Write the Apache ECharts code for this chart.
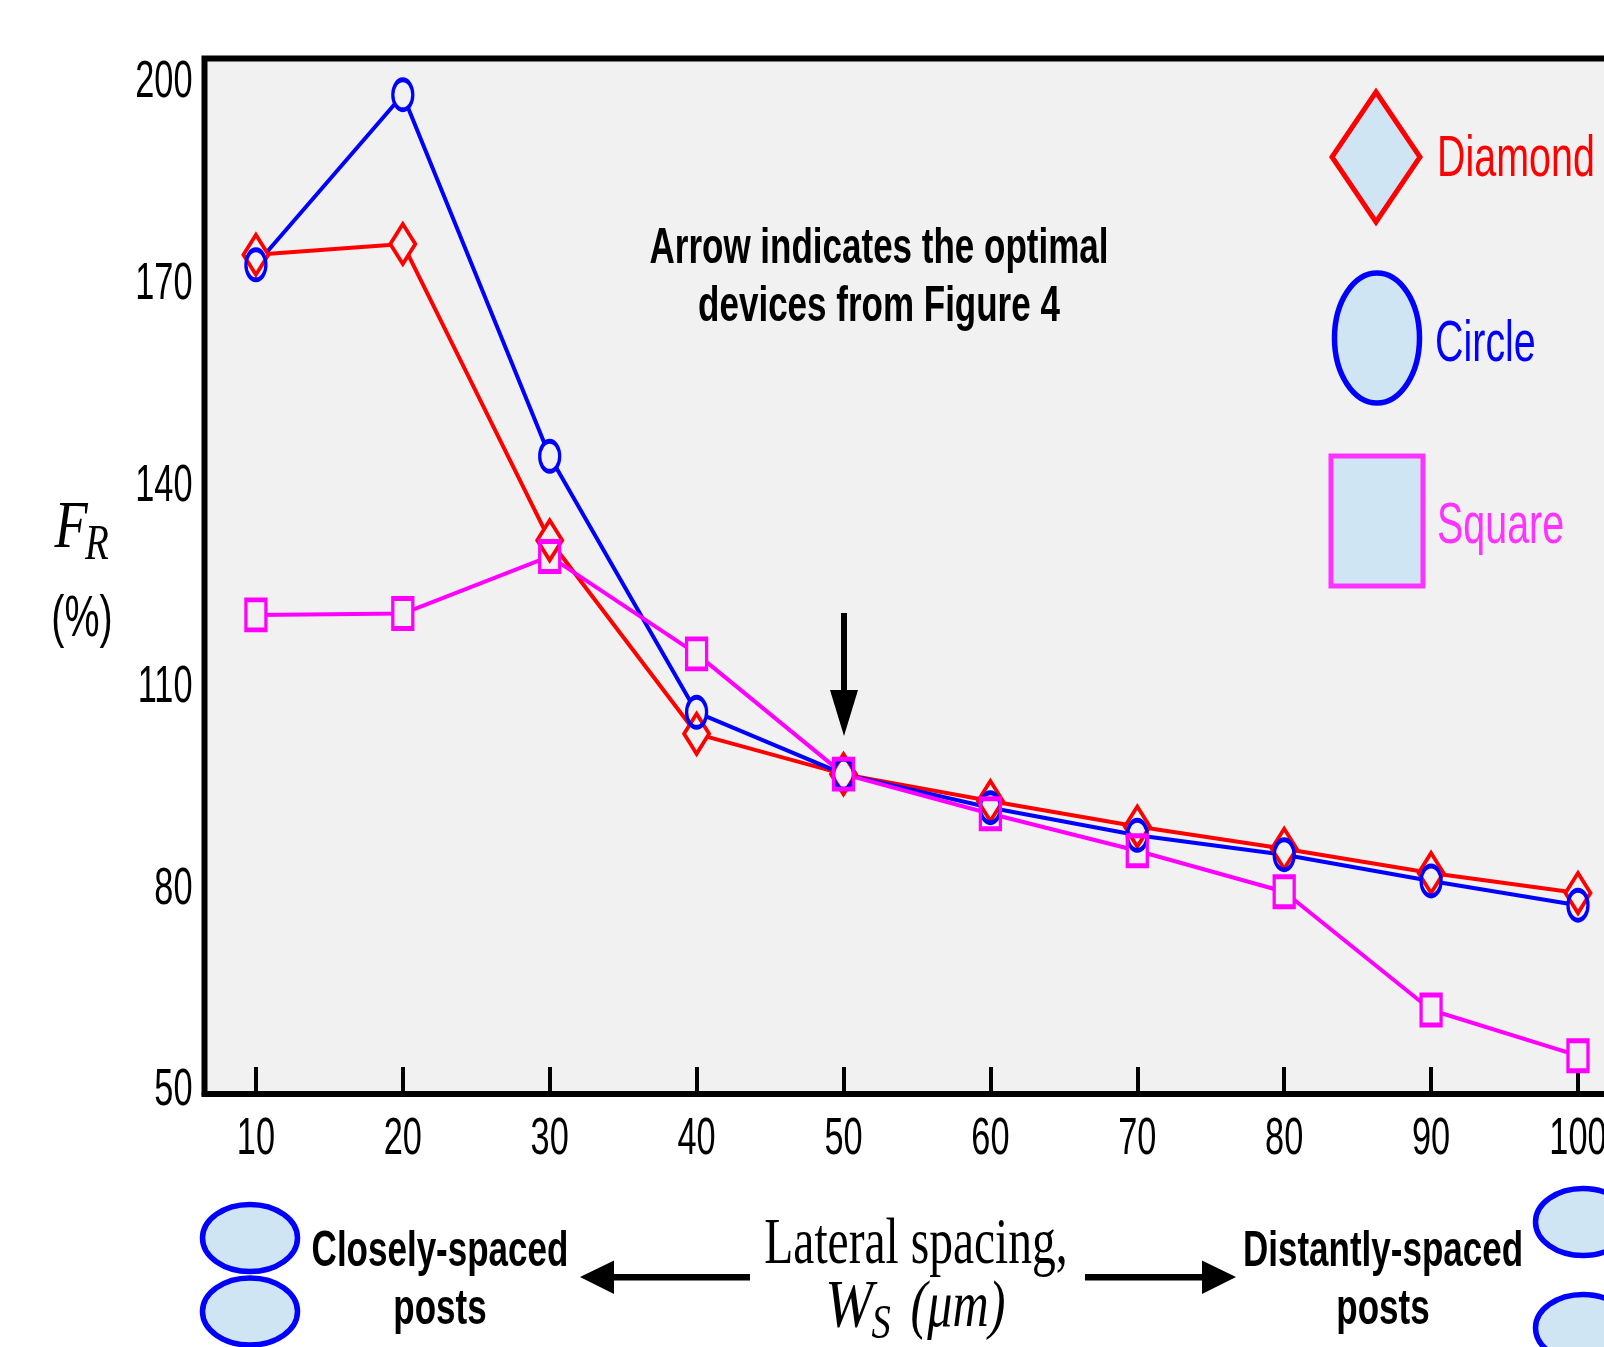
<!DOCTYPE html>
<html><head><meta charset="utf-8">
<style>html,body{margin:0;padding:0;background:#fff}#c{width:1604px;height:1347px}</style>
<script src="https://cdn.jsdelivr.net/npm/echarts@6/dist/echarts.min.js"></script>
</head><body><div id="c"></div>
<script>
const lateralSpacing = [10,20,30,40,50,60,70,80,90,100];
const yTickValues = [50,80,110,140,170,200];
const diamondValues = [174.9,176.5,132.4,103.6,97.6,93.6,89.8,86.5,82.9,79.9];
const circleValues = [173.4,198.7,144.9,106.8,97.6,92.6,88.5,85.6,81.7,78.1];
const squareValues = [121.3,121.5,130.0,115.5,97.6,91.7,86.2,80.1,62.5,55.7];

const PANEL='#f1f1f1', FILL='#d0e5f4', RED='#ff0000', BLUE='#0000ff', MAG='#ff00ff';
const SANS='"Liberation Sans"', SERIF='"Liberation Serif"';
const SX=0.66, BSX=0.70;

function zip(v){return lateralSpacing.map((x,i)=>[x,v[i]]);}
function trio(name,values,color,symbol,size,lw){
  const d=zip(values);
  return [
    {name,type:'line',data:d,symbol:'none',z:2,silent:true,lineStyle:{color,width:lw}},
    {name:name+' mask',type:'scatter',data:d,symbol,symbolSize:size,z:3,silent:true,itemStyle:{color:PANEL,borderWidth:0,opacity:1}},
    {name:name+' marker',type:'scatter',data:d,symbol,symbolSize:size,z:4,silent:true,itemStyle:{color:'transparent',borderColor:color,borderWidth:4,opacity:1}}
  ];
}
function labelText(text,x,y,align){
  return {type:'text',x,y,scaleX:SX,style:{text:String(text),fontSize:52,fontFamily:SANS,fill:'#000',align,verticalAlign:'middle'}};
}
function t(text,x,y,size,sx,o){
  o=o||{};
  return {type:'text',x,y,scaleX:sx,z:10,style:Object.assign({text,fontSize:size,fontFamily:SANS,fill:'#000',align:'center',verticalAlign:'middle'},o)};
}
function ell(cx,cy,rx,ry,stroke){return {type:'ellipse',z:10,shape:{cx,cy,rx,ry},style:{fill:FILL,stroke,lineWidth:5.5}};}
function poly(points,fill,stroke,lw){return {type:'polygon',z:10,shape:{points},style:{fill,stroke:stroke||null,lineWidth:lw||0}};}

const graphics=[
  // legend
  poly([[1376,92],[1420,157],[1376,222],[1332,157]],FILL,RED,5),
  ell(1377,338,42.5,65,BLUE),
  {type:'rect',z:10,shape:{x:1331,y:456,width:92,height:130},style:{fill:FILL,stroke:'#ff33ff',lineWidth:5}},
  t('Diamond',1437,160,58,0.68,{fill:RED,align:'left'}),
  t('Circle',1435,345,58,0.68,{fill:BLUE,align:'left'}),
  t('Square',1437,527,58,0.68,{fill:'#ff33ff',align:'left'}),
  // annotation
  t('Arrow indicates the optimal',879,249,50,BSX,{fontWeight:'bold'}),
  t('devices from Figure 4',879,307,50,BSX,{fontWeight:'bold'}),
  {type:'rect',z:10,shape:{x:841,y:613,width:6,height:78},style:{fill:'#000'}},
  poly([[830,690],[858,690],[844,736]],'#000'),
  // y title
  t('F',71,529,68,0.8,{fontFamily:SERIF,fontStyle:'italic'}),
  t('R',97,546,50,0.78,{fontFamily:SERIF,fontStyle:'italic'}),
  t('(%)',82,620,58,0.68),
  // x title & notes
  t('Lateral spacing,',916,1246,66,0.72,{fontFamily:SERIF}),
  t('W',849,1308,68,0.85,{fontFamily:SERIF,fontStyle:'italic'}),
  t('S',881,1325,48,0.8,{fontFamily:SERIF,fontStyle:'italic'}),
  t('(\u03bcm)',958,1309,66,0.76,{fontFamily:SERIF,fontStyle:'italic'}),
  t('Closely-spaced',440,1252,50,BSX,{fontWeight:'bold'}),
  t('posts',440,1310,50,BSX,{fontWeight:'bold'}),
  t('Distantly-spaced',1383,1252,50,BSX,{fontWeight:'bold'}),
  t('posts',1383,1310,50,BSX,{fontWeight:'bold'}),
  // arrows
  {type:'rect',z:10,shape:{x:614,y:1274,width:136,height:6.5},style:{fill:'#000'}},
  poly([[580,1277],[614,1260.5],[614,1294]],'#000'),
  {type:'rect',z:10,shape:{x:1085,y:1274,width:117,height:6.5},style:{fill:'#000'}},
  poly([[1236,1277],[1202,1260.5],[1202,1294]],'#000'),
  // posts
  ell(250,1238,47.5,33.5,BLUE),
  ell(250,1311.5,47.5,33.5,BLUE),
  ell(1583,1222,47.5,33.5,BLUE),
  ell(1583,1328,47.5,33.5,BLUE)
];

const xTickLabelSeries={
  name:'x tick labels',type:'custom',data:lateralSpacing.map(v=>[v,50]),silent:true,z:6,clip:false,
  encode:{x:0,y:1},
  renderItem:(p,api)=>{const c=api.coord([api.value(0),api.value(1)]);return labelText(api.value(0),c[0],c[1]+46,'center');}
};
const yTickLabelSeries={
  name:'y tick labels',type:'custom',data:yTickValues.map(v=>[6.5,v]),silent:true,z:6,clip:false,
  encode:{x:0,y:1},
  renderItem:(p,api)=>{const c=api.coord([api.value(0),api.value(1)]);return labelText(api.value(1),c[0]-12,c[1]-3,'right');}
};

const chart=echarts.init(document.getElementById('c'),null,{renderer:'canvas'});
chart.setOption({
  animation:false,
  backgroundColor:'#fff',
  grid:{left:204.5,top:58.5,width:1405.5,height:1035.5,show:true,outerBoundsMode:'none',backgroundColor:PANEL,borderColor:'#000',borderWidth:6,containLabel:false},
  xAxis:{type:'value',min:6.5,max:102.18,
    axisLine:{show:true,onZero:false,lineStyle:{color:'#000',width:6}},
    axisTick:{show:true,inside:true,length:27,customValues:lateralSpacing,lineStyle:{color:'#000',width:4}},
    axisLabel:{show:false},splitLine:{show:false}},
  yAxis:{type:'value',min:50,max:204.1,
    axisLine:{show:false},axisTick:{show:false},axisLabel:{show:false},splitLine:{show:false}},
  series:[].concat(
    trio('Diamond',diamondValues,RED,'diamond',[25,40],4),
    trio('Circle',circleValues,BLUE,'circle',[20,30],4),
    trio('Square',squareValues,MAG,'rect',[20,30],4),
    [xTickLabelSeries,yTickLabelSeries]),
  graphic:{elements:graphics}
});
</script></body></html>
